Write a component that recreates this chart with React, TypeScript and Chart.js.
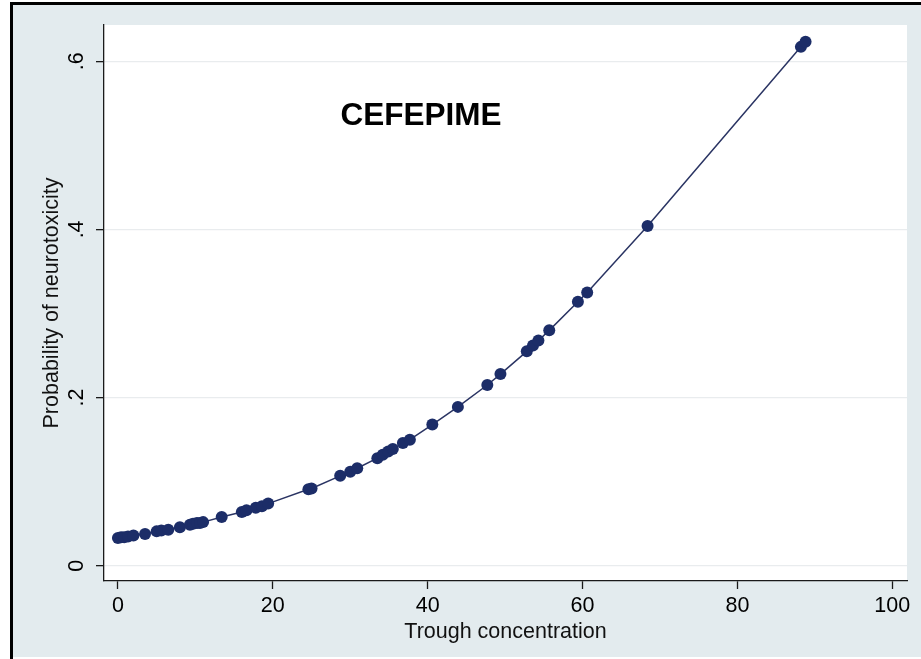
import React, { useEffect, useRef } from 'react';
import { Chart, registerables } from 'chart.js';

Chart.register(...registerables);

// Trough concentration (x) of each observation
const troughConc = [
  0, 0.4, 0.8, 1.3, 2.0, 3.5, 5.0, 5.6, 6.5, 8.0, 9.3, 9.7, 10.2, 10.6, 11.0,
  13.4, 16.0, 16.6, 17.8, 18.6, 19.4, 24.6, 25.0, 28.7, 30.0, 30.9, 33.5, 34.2,
  34.9, 35.5, 36.8, 37.7, 40.6, 43.9, 47.7, 49.4, 52.8, 53.6, 54.3, 55.7, 59.4,
  60.6, 68.4, 88.2, 88.8,
];
// Predicted probability of neurotoxicity for each observation
const probNeuro = [
  0.033, 0.034, 0.034, 0.035, 0.036, 0.038, 0.041, 0.042, 0.043, 0.046, 0.049,
  0.050, 0.051, 0.051, 0.052, 0.058, 0.064, 0.066, 0.069, 0.071, 0.074, 0.091,
  0.092, 0.107, 0.112, 0.116, 0.128, 0.132, 0.136, 0.139, 0.146, 0.150, 0.168,
  0.189, 0.215, 0.228, 0.255, 0.262, 0.268, 0.280, 0.314, 0.325, 0.404, 0.617,
  0.623,
];

const xTicks = [0, 20, 40, 60, 80, 100];
const xTickLabels = ['0', '20', '40', '60', '80', '100'];
const yTicks = [0, 0.2, 0.4, 0.6];
const yTickLabels = ['0', '.2', '.4', '.6'];

const chartTitle = 'CEFEPIME';
const xTitle = 'Trough concentration';
const yTitle = 'Probability of neurotoxicity';

const FONT = 'Arial, "Liberation Sans", Helvetica, sans-serif';
const OUTER_BG = '#e3ebee';
const MARK = '#1c2d68';

const framePlugin = {
  id: 'frame',
  beforeDraw(chart: any) {
    const { ctx, width, height, chartArea } = chart;
    ctx.save();
    ctx.fillStyle = '#ffffff';
    ctx.fillRect(0, 0, width, height);
    ctx.fillStyle = OUTER_BG;
    ctx.fillRect(13, 5, width - 13, 652);
    ctx.fillStyle = '#000000';
    ctx.fillRect(10, 2, width - 10, 3);
    ctx.fillRect(10, 2, 3, height - 2);
    ctx.fillStyle = '#ffffff';
    ctx.fillRect(chartArea.left, chartArea.top, chartArea.right - chartArea.left, chartArea.bottom - chartArea.top);
    ctx.restore();
  },
  afterDraw(chart: any) {
    const { ctx, chartArea } = chart;
    ctx.save();
    ctx.fillStyle = '#000000';
    ctx.font = `bold 31.5px ${FONT}`;
    ctx.textAlign = 'center';
    ctx.textBaseline = 'middle';
    ctx.fillText(chartTitle, chartArea.left + 317, chartArea.top + 91);
    ctx.restore();
  },
};

export default function App() {
  const ref = useRef<HTMLCanvasElement | null>(null);

  useEffect(() => {
    if (!ref.current) return;
    const points = troughConc.map((x, i) => ({ x, y: probNeuro[i] }));
    const chart = new Chart(ref.current, {
      type: 'scatter',
      data: {
        datasets: [
          {
            data: points,
            showLine: true,
            borderColor: '#2a3463',
            borderWidth: 1.5,
            pointRadius: 6,
            pointBackgroundColor: MARK,
            pointBorderColor: MARK,
            pointBorderWidth: 0,
          },
        ],
      },
      options: {
        animation: false,
        responsive: false,
        devicePixelRatio: 1,
        layout: { padding: { left: 0, top: 25, right: 14, bottom: 0 } },
        plugins: {
          legend: { display: false },
          tooltip: { enabled: false },
        },
        scales: {
          x: {
            type: 'linear',
            min: -1.8,
            max: 101.9,
            afterFit: (s: any) => {
              s.height = 78;
            },
            afterBuildTicks: (s: any) => {
              s.ticks = xTicks.map((v) => ({ value: v }));
            },
            border: { display: true, color: '#1a1a1a', width: 1.3 },
            grid: {
              drawOnChartArea: false,
              drawTicks: true,
              tickLength: 8,
              tickColor: '#1a1a1a',
              tickWidth: 1.3,
            },
            ticks: {
              color: '#000',
              padding: 4,
              font: { family: FONT, size: 21.5 },
              maxRotation: 0,
              minRotation: 0,
              callback: (v: any) => {
                const i = xTicks.indexOf(Number(v));
                return i >= 0 ? xTickLabels[i] : '';
              },
            },
            title: {
              display: true,
              text: xTitle,
              color: '#111',
              font: { family: FONT, size: 21.5 },
              padding: { top: 0, bottom: 14 },
            },
          },
          y: {
            type: 'linear',
            min: -0.018,
            max: 0.643,
            afterFit: (s: any) => {
              s.width = 104;
            },
            afterBuildTicks: (s: any) => {
              s.ticks = yTicks.map((v) => ({ value: v }));
            },
            border: { display: true, color: '#1a1a1a', width: 1.3 },
            grid: {
              drawOnChartArea: true,
              color: '#e9ecee',
              lineWidth: 1.3,
              drawTicks: true,
              tickLength: 8,
              tickColor: '#1a1a1a',
              tickWidth: 1.3,
            },
            ticks: {
              color: '#000',
              padding: 10,
              crossAlign: 'center',
              minRotation: 90,
              maxRotation: 90,
              font: { family: FONT, size: 21.5 },
              callback: (v: any) => {
                const i = yTicks.findIndex((t) => Math.abs(t - Number(v)) < 1e-9);
                return i >= 0 ? yTickLabels[i] : '';
              },
            },
            title: {
              display: true,
              text: yTitle,
              color: '#111',
              font: { family: FONT, size: 21.5 },
              padding: { top: 39, bottom: 0 },
            },
          },
        },
      },
      plugins: [framePlugin],
    });
    return () => chart.destroy();
  }, []);

  return (
    <div style={{ position: 'fixed', left: 0, top: 0, width: 921, height: 659 }}>
      <canvas ref={ref} width={921} height={659} style={{ display: 'block', width: 921, height: 659 }} />
    </div>
  );
}
